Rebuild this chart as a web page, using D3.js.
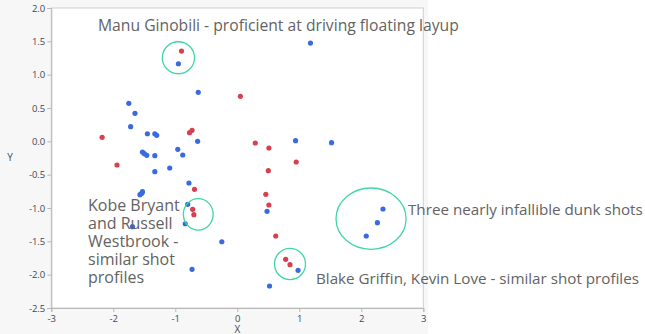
<!DOCTYPE html>
<html><head><meta charset="utf-8">
<script src="https://cdn.jsdelivr.net/npm/d3@7"></script>
<style>body{margin:0;background:#fff;}svg{display:block;}</style>
</head><body>
<svg id="c" width="645" height="334"></svg>
<script>
const xs = [-0.90,-0.95,1.18,-0.63,0.05,-1.75,-1.65,-1.72,-1.45,-1.33,-1.30,-2.18,-0.77,-0.73,-0.64,0.29,0.51,0.94,1.52,-1.53,-1.50,-1.46,-1.33,-0.96,-0.88,-1.94,0.95,-1.09,-1.33,0.50,-0.78,-0.69,-1.53,-1.54,-1.57,0.46,0.51,-0.80,-0.72,-0.70,0.48,-0.84,-1.69,0.62,-0.25,0.78,0.85,0.98,-0.73,0.52,2.35,2.26,2.08];
const ys = [1.354,1.164,1.474,0.735,0.675,0.57,0.42,0.22,0.114,0.114,0.09,0.06,0.13,0.165,0.0,-0.025,-0.10,0.01,-0.02,-0.16,-0.185,-0.21,-0.215,-0.12,-0.205,-0.355,-0.31,-0.40,-0.455,-0.44,-0.625,-0.72,-0.755,-0.78,-0.80,-0.795,-0.955,-0.945,-1.02,-1.10,-1.05,-1.236,-1.28,-1.42,-1.506,-1.77,-1.85,-1.935,-1.92,-2.17,-1.015,-1.22,-1.42];
const groups = ["r","b","b","b","r","b","b","b","b","b","b","r","r","r","b","r","r","b","b","b","b","b","b","b","b","r","r","b","b","r","b","r","b","b","b","r","r","b","r","r","b","b","b","r","b","r","r","b","b","b","b","b","b"];
const xTicks = [-3,-2,-1,0,1,2,3];
const yTicks = [2.0,1.5,1.0,0.5,0.0,-0.5,-1.0,-1.5,-2.0,-2.5];
const ringCx = [-0.95,-0.63,0.85,2.157];
const ringCy = [1.254,-1.095,-1.84,-1.16];
const ringRx = [0.26,0.24,0.25,0.565];
const ringRy = [0.24,0.237,0.235,0.46];
const notes = ["Manu Ginobili - proficient at driving floating layup","Three nearly infallible dunk shots","Blake Griffin, Kevin Love - similar shot profiles"];
const kobeLines = ["Kobe Bryant","and Russell","Westbrook -","similar shot","profiles"];

const svg = d3.select("#c");
const L=51.3, R=423.3, T=8, B=308;
const x = d3.scaleLinear().domain([-3,3]).range([L,R]);
const y = d3.scaleLinear().domain([-2.5,2]).range([B,T]);

svg.append("rect").attr("x",0).attr("y",0).attr("width",428).attr("height",334).attr("fill","#f7f7f7");
svg.append("rect").attr("x",L).attr("y",T).attr("width",R-L).attr("height",B-T).attr("fill","#fff").attr("stroke","#cfcfcf").attr("stroke-width",1);

const xa = svg.append("g").attr("transform",`translate(0,${B})`).call(d3.axisBottom(x).tickValues(xTicks).tickFormat(d3.format("d")).tickSize(4).tickPadding(3));
const ya = svg.append("g").attr("transform",`translate(${L},0)`).call(d3.axisLeft(y).tickValues(yTicks).tickFormat(d3.format(".1f")).tickSize(4).tickPadding(2));
[xa,ya].forEach(a=>{
  a.selectAll("path").attr("stroke","#b8b8b8");
  a.selectAll("line").attr("stroke","#b8b8b8");
  a.selectAll("text").attr("fill","#404858").style("font-family","'Open Sans',sans-serif").style("font-size","9.5px");
});
ya.selectAll("text").text(d=>d3.format(".1f")(d).replace("−","-"));
xa.selectAll("text").text(d=>String(d));

svg.append("text").attr("x",x(0)).attr("y",332.5).attr("text-anchor","middle").attr("fill","#404858").style("font-family","'Open Sans',sans-serif").style("font-size","10px").text("X");
svg.append("text").attr("x",10).attr("y",161).attr("text-anchor","middle").attr("fill","#404858").style("font-family","'Open Sans',sans-serif").style("font-size","10px").text("Y");

svg.append("g").selectAll("circle").data(xs.map((d,i)=>({x:d,y:ys[i],g:groups[i]}))).join("circle")
  .attr("cx",d=>x(d.x)).attr("cy",d=>y(d.y)).attr("r",2.6)
  .attr("fill",d=>d.g==="r"?"#d9404f":"#3a6ae0");

svg.append("g").selectAll("ellipse").data(ringCx.map((d,i)=>i)).join("ellipse")
  .attr("cx",i=>x(ringCx[i])).attr("cy",i=>y(ringCy[i]))
  .attr("rx",i=>x(ringRx[i])-x(0)).attr("ry",i=>y(0)-y(ringRy[i]))
  .attr("fill","none").attr("stroke","#3fd6a6").attr("stroke-width",1.3);

const tf = (s,fs)=>s.attr("fill","#636363").style("font-family","'Open Sans',sans-serif").style("font-size",fs||"15px");
svg.append("text").attr("x",98).attr("y",31).text(notes[0]).call(tf,"15.7px");
svg.append("text").attr("x",408).attr("y",215).text(notes[1]).call(tf,"15.2px");
svg.append("text").attr("x",316).attr("y",284).text(notes[2]).call(tf,"15.2px");
svg.append("g").selectAll("text").data(kobeLines).join("text").attr("x",88).attr("y",(d,i)=>210.7+i*18).text(d=>d).call(tf,"16px");
</script>
</body></html>
